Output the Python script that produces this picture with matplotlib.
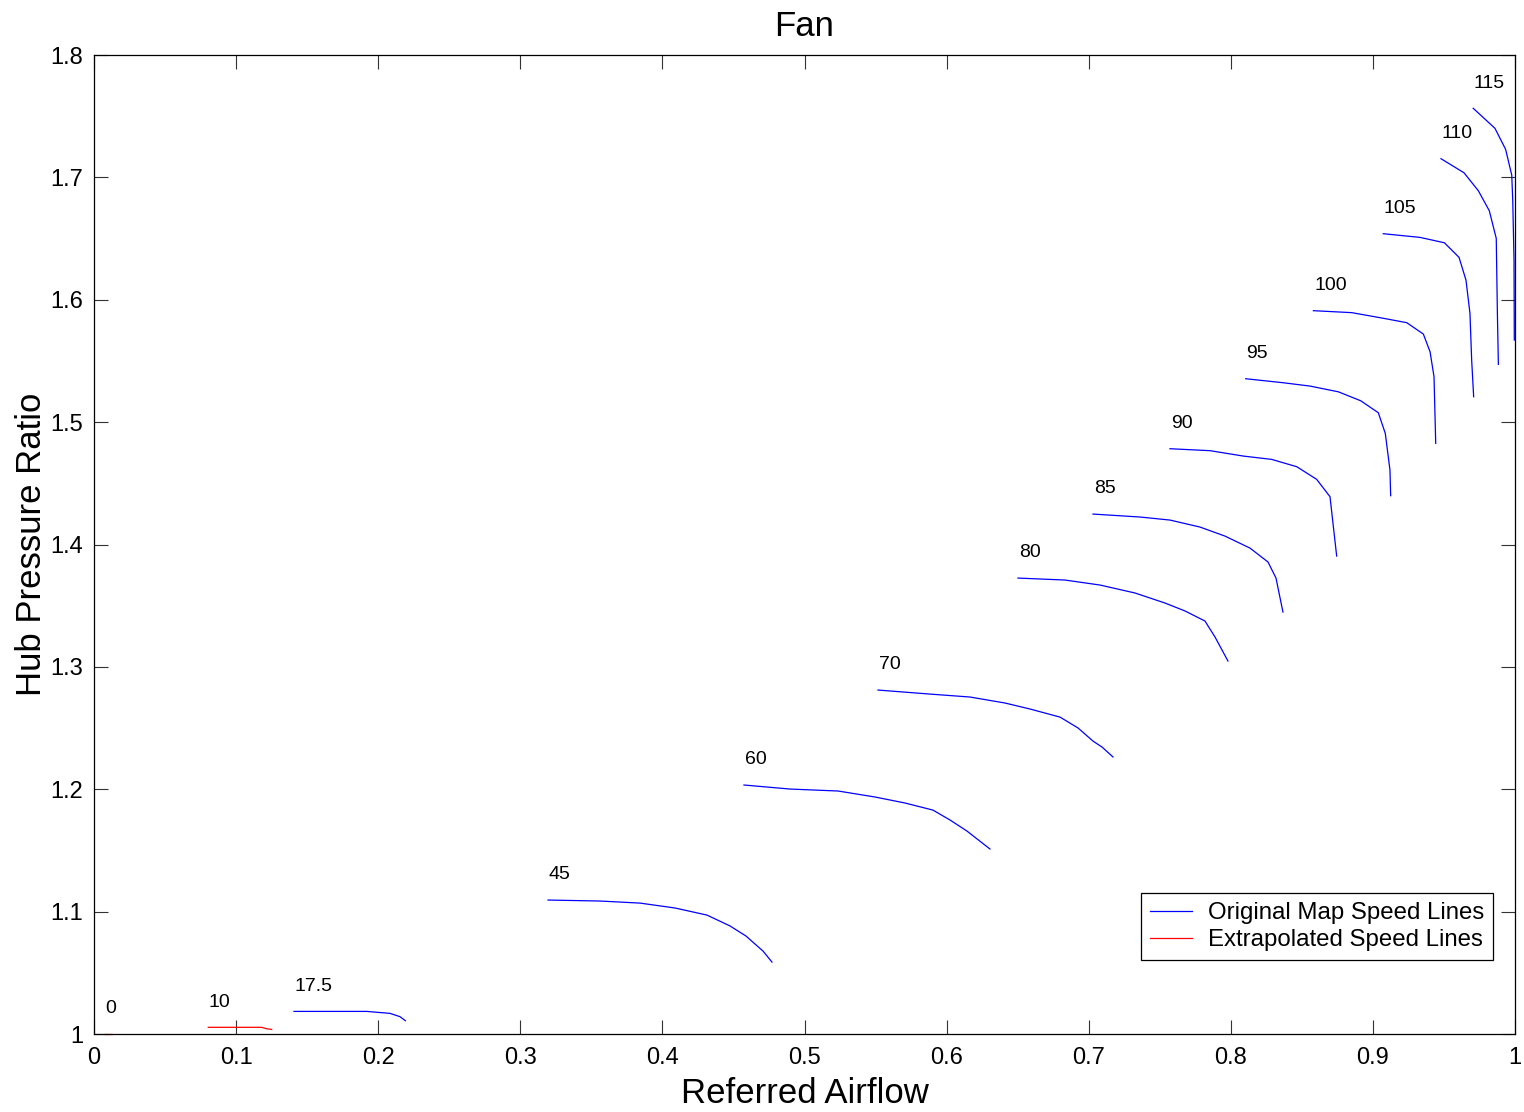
import numpy as np
import matplotlib
matplotlib.use('Agg')
import matplotlib.pyplot as plt

plt.rcParams['font.family'] = ['Liberation Sans', 'DejaVu Sans']

# speed lines: label, x (referred airflow), y (hub pressure ratio), extrapolated?
speeds = ['0', '10', '17.5', '45', '60', '70', '80', '85', '90', '95', '100', '105', '110', '115']
extrap = [True, True, False, False, False, False, False, False, False, False, False, False, False, False]

x0 = [0.0077, 0.0125]
y0 = [1.0, 1.0]
x10 = [0.0804, 0.1180, 0.1215, 0.1250]
y10 = [1.0055, 1.0055, 1.0043, 1.0038]
x175 = [0.1407, 0.1919, 0.2083, 0.2153, 0.2191]
y175 = [1.0185, 1.0185, 1.0169, 1.0142, 1.0109]
x45 = [0.3195, 0.3561, 0.3843, 0.4089, 0.4314, 0.4476, 0.4588, 0.4708, 0.4771]
y45 = [1.1095, 1.1087, 1.1070, 1.1030, 1.0972, 1.0883, 1.0801, 1.0678, 1.0588]
x60 = [0.4574, 0.4898, 0.5236, 0.5496, 0.5707, 0.5904, 0.6024, 0.6143, 0.6305]
y60 = [1.2035, 1.2002, 1.1986, 1.1937, 1.1888, 1.1830, 1.1749, 1.1659, 1.1512]
x70 = [0.5517, 0.5883, 0.6165, 0.6411, 0.6587, 0.6798, 0.6925, 0.7030, 0.7094, 0.7171]
y70 = [1.2811, 1.2778, 1.2754, 1.2705, 1.2656, 1.2590, 1.2501, 1.2394, 1.2345, 1.2264]
x80 = [0.6502, 0.6833, 0.7080, 0.7326, 0.7537, 0.7678, 0.7818, 0.7889, 0.7980]
y80 = [1.3726, 1.3710, 1.3669, 1.3604, 1.3522, 1.3457, 1.3375, 1.3244, 1.3048]
x85 = [0.7030, 0.7361, 0.7572, 0.7783, 0.7959, 0.8135, 0.8262, 0.8318, 0.8367]
y85 = [1.4249, 1.4225, 1.4200, 1.4143, 1.4069, 1.3971, 1.3857, 1.3726, 1.3448]
x90 = [0.7572, 0.7854, 0.8088, 0.8287, 0.8464, 0.8604, 0.8698, 0.8745]
y90 = [1.4783, 1.4767, 1.4723, 1.4696, 1.4636, 1.4533, 1.4391, 1.3906]
x95 = [0.8105, 0.8370, 0.8557, 0.8757, 0.8914, 0.9038, 0.9087, 0.9120, 0.9125]
y95 = [1.5355, 1.5322, 1.5295, 1.5248, 1.5175, 1.5077, 1.4909, 1.4609, 1.4399]
x100 = [0.8581, 0.8851, 0.9073, 0.9238, 0.9355, 0.9402, 0.9430, 0.9442]
y100 = [1.5911, 1.5895, 1.5849, 1.5813, 1.5720, 1.5576, 1.5372, 1.4827]
x105 = [0.9073, 0.9331, 0.9503, 0.9606, 0.9655, 0.9683, 0.9695, 0.9709]
y105 = [1.6540, 1.6510, 1.6466, 1.6347, 1.6161, 1.5889, 1.5507, 1.5208]
x110 = [0.9479, 0.9641, 0.9742, 0.9819, 0.9868, 0.9876, 0.9883]
y110 = [1.7153, 1.7038, 1.6891, 1.6728, 1.6502, 1.5889, 1.5472]
x115 = [0.9706, 0.9859, 0.9934, 0.9977, 0.9984, 0.9993, 0.9995]
y115 = [1.7565, 1.7401, 1.7229, 1.7019, 1.6815, 1.6325, 1.5671]

xs = [x0, x10, x175, x45, x60, x70, x80, x85, x90, x95, x100, x105, x110, x115]
ys = [y0, y10, y175, y45, y60, y70, y80, y85, y90, y95, y100, y105, y110, y115]

fig = plt.figure(figsize=(15.24, 11.12), dpi=100)
ax = fig.add_axes([0.0617, 0.0701, 0.9324, 0.8804])

done_orig = False
done_ext = False
for name, xx, yy, ex in zip(speeds, xs, ys, extrap):
    lab = None
    if ex and not done_ext:
        lab = 'Extrapolated Speed Lines'
        done_ext = True
    if not ex and not done_orig:
        lab = 'Original Map Speed Lines'
        done_orig = True
    ax.plot(xx, yy, color='#ff0000' if ex else '#0000ff', lw=0.9, label=lab, clip_on=False)
    ax.text(xx[0] + 0.0005, yy[0] + 0.0205, name, fontsize=14, ha='left', va='center')

ax.set_xlim(0, 1)
ax.set_ylim(1, 1.8)
xt = np.round(np.arange(0, 1.01, 0.1), 1)
yt = np.round(np.arange(1, 1.81, 0.1), 1)
ax.set_xticks(xt)
ax.set_xticklabels(['0'] + ['%.1f' % v for v in xt[1:-1]] + ['1'])
ax.set_yticks(yt)
ax.set_yticklabels(['1'] + ['%.1f' % v for v in yt[1:]])
ax.tick_params(direction='in', length=10, width=0.8, color='#333333', labelsize=17,
               top=True, right=True)
ax.tick_params(axis='x', pad=9)
ax.tick_params(axis='y', pad=8)
for s in ax.spines.values():
    s.set_linewidth(0.9)

ax.set_xlabel('Referred Airflow', fontsize=25, labelpad=6)
ax.set_ylabel('Hub Pressure Ratio', fontsize=25, labelpad=1.5)
ax.set_title('Fan', fontsize=25, pad=14)

handles, labels = ax.get_legend_handles_labels()
order = [labels.index('Original Map Speed Lines'), labels.index('Extrapolated Speed Lines')]
leg = ax.legend([handles[i] for i in order], [labels[i] for i in order], loc='lower right',
                bbox_to_anchor=(0.9845, 0.0755), fontsize=17.3, fancybox=False, framealpha=1,
                edgecolor='black', handlelength=1.75, handletextpad=0.65, borderpad=0.38,
                labelspacing=0.2, borderaxespad=0)
leg.get_frame().set_linewidth(0.9)

fig.savefig('out.png', dpi=100)
